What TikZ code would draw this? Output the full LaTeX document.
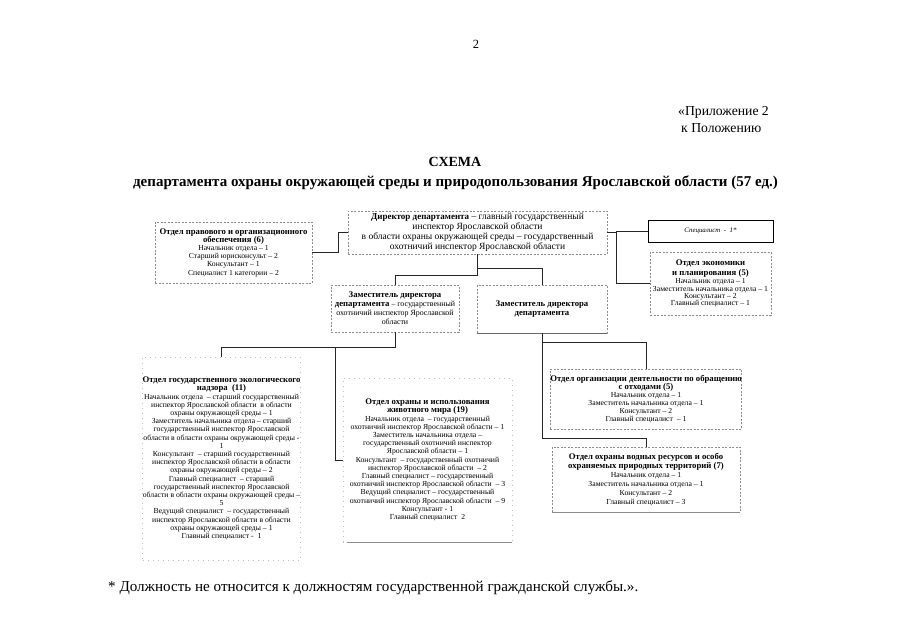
\documentclass[tikz,border=0pt]{standalone}
\usepackage{fontspec}
\setmainfont{Liberation Serif}
\usetikzlibrary{calc}
\newcommand\bxhead[1]{{\fontsize{8.7}{8.2}\selectfont\bfseries #1}}
\begin{document}
\begin{tikzpicture}[x=1pt,y=-1pt,
  dbox/.style={draw=black!45, dash pattern=on 2pt off 1.5pt, line width=0.5pt,
    inner sep=0pt, align=center, font=\fontsize{7.7}{8.2}\selectfont},
  fbox/.style={dbox, draw=black!25, dash pattern=on 1pt off 4pt},
  sbox/.style={draw=black, line width=1pt, inner sep=0pt, align=center,
    font=\fontsize{6.9}{8}\selectfont\itshape},
  conn/.style={draw=black!85, line width=0.9pt},
  solidedge/.style={draw=black!60, line width=0.6pt},
  ttl/.style={font=\fontsize{14}{16}\selectfont\bfseries, inner sep=0pt},
  plain/.style={font=\fontsize{13.7}{15}\selectfont, inner sep=0pt}]
\useasboundingbox[fill=white] (0,0) rectangle (905,640);

% header texts
\node[plain, font=\fontsize{12.5}{15}\selectfont] (pg) at (476,44) {2};
\node[plain, anchor=west] (app1) at (678,112) {«Приложение 2};
\node[plain, anchor=west] (app2) at (681,128) {к Положению};
\node[ttl] (t1) at (455,162) {СХЕМА};
\node[ttl, font=\fontsize{15}{17}\selectfont\bfseries] (t2) at (455.5,183) {департамента охраны окружающей среды и природопользования Ярославской области (57 ед.)};
\node[plain, anchor=west, font=\fontsize{15.1}{17}\selectfont] (foot) at (108,588) {* Должность не относится к должностям государственной гражданской службы.».};

% boxes
\node[dbox, minimum width=157, minimum height=61] (legal) at (233.5,252.5)
  {\bxhead{Отдел правового и организационного}\\\bxhead{обеспечения (6)}\\
   Начальник отдела – 1\\Старший юрисконсульт – 2\\Консультант – 1\\Специалист 1 категории – 2};

\node[dbox, minimum width=259, minimum height=43, font=\fontsize{9.5}{8.7}\selectfont] (director) at (477.5,232.5)
  {{\fontsize{9}{8.7}\selectfont\bfseries Директор департамента} – главный государственный\\
   инспектор Ярославской области\\
   в области охраны окружающей среды – государственный\\
   охотничий инспектор Ярославской области};

\node[sbox, minimum width=125, minimum height=22] (spec) at (710.5,231) {Специалист\ \ -\ \ 1*};

\node[dbox, minimum width=121, minimum height=63, font=\fontsize{7.7}{7.2}\selectfont] (econ) at (710.5,283.5)
  {\bxhead{Отдел экономики}\\[1.5pt]\bxhead{и планирования (5)}\\[1pt]
   Начальник отдела – 1\\Заместитель начальника отдела – 1\\Консультант – 2\\Главный специалист – 1};

\node[dbox, minimum width=128, minimum height=47, font=\fontsize{7.9}{8.9}\selectfont] (dep1) at (395,308.5)
  {\bxhead{Заместитель директора}\\\bxhead{департамента} – государственный\\
   охотничий инспектор Ярославской\\области};

\node[dbox, minimum width=130, minimum height=48] (dep2) at (542,309)
  {\bxhead{Заместитель директора}\\\bxhead{департамента}};
\draw[solidedge] (dep2.south west) -- (dep2.south east);

\node[fbox, minimum width=157, minimum height=203] (eco) at (221.5,458.5)
  {\bxhead{Отдел государственного экологического}\\\bxhead{надзора\ \ (11)}\\
   Начальник отдела\ \ – старший государственный\\
   инспектор Ярославской области\ \ в области\\
   охраны окружающей среды – 1\\
   Заместитель начальника отдела – старший\\
   государственный инспектор Ярославской\\
   области в области охраны окружающей среды -\\
   1\\
   Консультант\ \ – старший государственный\\
   инспектор Ярославской области в области\\
   охраны окружающей среды – 2\\
   Главный специалист\ \ – старший\\
   государственный инспектор Ярославской\\
   области в области охраны окружающей среды –\\
   5\\
   Ведущий специалист\ \ – государственный\\
   инспектор Ярославской области в области\\
   охраны окружающей среды – 1\\
   Главный специалист -\ \ 1};

\node[fbox, minimum width=169, minimum height=164] (wild) at (427.5,460)
  {\bxhead{Отдел охраны и использования}\\\bxhead{животного мира (19)}\\
   Начальник отдела\ \ – государственный\\
   охотничий инспектор Ярославской области – 1\\
   Заместитель начальника отдела –\\
   государственный охотничий инспектор\\
   Ярославской области – 1\\
   Консультант\ \ – государственный охотничий\\
   инспектор Ярославской области\ \ – 2\\
   Главный специалист – государственный\\
   охотничий инспектор Ярославской области\ \ – 3\\
   Ведущий специалист – государственный\\
   охотничий инспектор Ярославской области\ \ – 9\\
   Консультант - 1\\
   Главный специалист\ \ 2};
\draw[solidedge, draw=black!45] (wild.south west) ++(4,0) -- (wild.south east);

\node[dbox, minimum width=188, minimum height=60, font=\fontsize{7.7}{8}\selectfont] (waste) at (646,399)
  {\bxhead{Отдел организации деятельности по обращению}\\\bxhead{с отходами (5)}\\
   Начальник отдела – 1\\Заместитель начальника отдела – 1\\Консультант – 2\\Главный специалист\ \ – 1};

\node[dbox, minimum width=188, minimum height=65, font=\fontsize{7.7}{9}\selectfont] (water) at (646,479.5)
  {\bxhead{Отдел охраны водных ресурсов и особо}\\\bxhead{охраняемых природных территорий (7)}\\
   Начальник отдела – 1\\Заместитель начальника отдела – 1\\Консультант – 2\\Главный специалист – 3};
\draw[solidedge, draw=black!45] (water.south west) -- (water.south east);

% connectors
\draw[conn] (legal.east) -- ++(26,0) |- (director.west);
\draw[conn] (director.east) -- ++(9,0) coordinate (jr);
\draw[conn] (spec.west) -| (jr) |- (econ.west);
\draw[conn] (director.south) -- ++(0,21) -| (dep1.north);
\draw[conn] (director.south) ++(0,14) -| (dep2.north);
\draw[conn] (dep1.south) -- ++(0,15) coordinate (j1) -| (eco.north);
\draw[conn] ($(j1)+(-60,0)$) |- (wild.west);
\draw[conn] (dep2.south) -- ++(0,9) -| (waste.north);
\draw[conn] (dep2.south) -- ++(0,105) -| (water.north);
\end{tikzpicture}
\end{document}
